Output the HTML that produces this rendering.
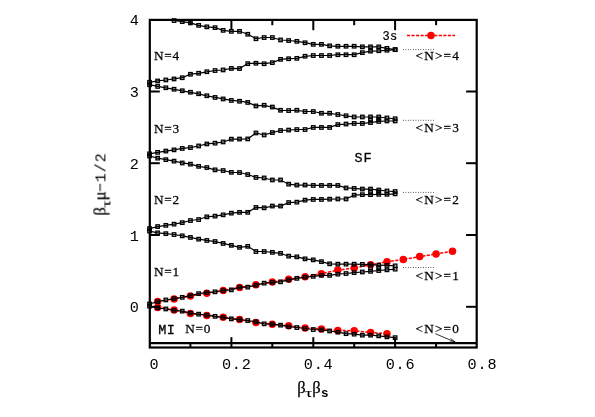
<!DOCTYPE html>
<html><head><meta charset="utf-8"><title>plot</title>
<style>html,body{margin:0;padding:0;background:#fff;}body{width:595px;height:417px;overflow:hidden;}svg{display:block;}text{fill:#000;}.tx{filter:grayscale(1);}.m{font-family:"Liberation Mono",monospace;font-size:15px;}.s{font-family:"Liberation Serif",serif;font-size:15px;stroke:#000;stroke-width:0.25px;}</style>
</head><body>
<svg width="595" height="417" viewBox="0 0 595 417">
<rect width="595" height="417" fill="#fff"/>
<g fill="none" stroke="#ff0000" stroke-width="1.5" stroke-dasharray="3.15 1.4">
<polyline points="157.7,301.6 174.1,298.9 190.4,296.1 206.8,293.2 223.2,290.5 239.6,287.5 255.9,284.8 272.3,282.1 288.7,279.3 305.1,276.8 321.4,273.7 337.8,270.1 354.2,268.1 370.6,264.7 387.0,261.7 403.3,259.5 419.7,256.6 436.1,253.9 452.5,251.2"/>
<polyline points="157.7,307.4 174.1,310.0 190.4,313.4 206.8,315.4 223.2,317.3 239.6,319.6 255.9,322.6 272.3,324.2 288.7,325.8 305.1,328.0 321.4,328.9 337.8,330.4 354.2,330.7 370.6,332.6 387.0,333.7"/>
<line x1="406.9" y1="35.5" x2="455.1" y2="35.5"/>
</g>
<g fill="#ff0000">
<circle cx="157.7" cy="301.6" r="3.75"/>
<circle cx="174.1" cy="298.9" r="3.75"/>
<circle cx="190.4" cy="296.1" r="3.75"/>
<circle cx="206.8" cy="293.2" r="3.75"/>
<circle cx="223.2" cy="290.5" r="3.75"/>
<circle cx="239.6" cy="287.5" r="3.75"/>
<circle cx="255.9" cy="284.8" r="3.75"/>
<circle cx="272.3" cy="282.1" r="3.75"/>
<circle cx="288.7" cy="279.3" r="3.75"/>
<circle cx="305.1" cy="276.8" r="3.75"/>
<circle cx="321.4" cy="273.7" r="3.75"/>
<circle cx="337.8" cy="270.1" r="3.75"/>
<circle cx="354.2" cy="268.1" r="3.75"/>
<circle cx="370.6" cy="264.7" r="3.75"/>
<circle cx="387.0" cy="261.7" r="3.75"/>
<circle cx="403.3" cy="259.5" r="3.75"/>
<circle cx="419.7" cy="256.6" r="3.75"/>
<circle cx="436.1" cy="253.9" r="3.75"/>
<circle cx="452.5" cy="251.2" r="3.75"/>
<circle cx="157.7" cy="307.4" r="3.75"/>
<circle cx="174.1" cy="310.0" r="3.75"/>
<circle cx="190.4" cy="313.4" r="3.75"/>
<circle cx="206.8" cy="315.4" r="3.75"/>
<circle cx="223.2" cy="317.3" r="3.75"/>
<circle cx="239.6" cy="319.6" r="3.75"/>
<circle cx="255.9" cy="322.6" r="3.75"/>
<circle cx="272.3" cy="324.2" r="3.75"/>
<circle cx="288.7" cy="325.8" r="3.75"/>
<circle cx="305.1" cy="328.0" r="3.75"/>
<circle cx="321.4" cy="328.9" r="3.75"/>
<circle cx="337.8" cy="330.4" r="3.75"/>
<circle cx="354.2" cy="330.7" r="3.75"/>
<circle cx="370.6" cy="332.6" r="3.75"/>
<circle cx="387.0" cy="333.7" r="3.75"/>
<circle cx="431.0" cy="35.5" r="3.75"/>
</g>
<g fill="none" stroke="#000" stroke-width="1.2">
<polyline points="174.1,20.5 182.3,21.7 190.4,22.9 198.6,25.4 206.8,26.9 215.0,27.6 223.2,30.3 231.4,31.3 239.6,31.3 247.8,34.3 255.9,38.7 264.1,37.5 272.3,37.5 280.5,40.0 288.7,40.5 296.9,41.4 305.1,42.7 313.3,44.4 321.4,44.4 329.6,45.9 337.8,46.3 346.0,46.3 354.2,46.3 362.4,46.9 370.6,46.9 378.8,46.9 387.0,48.4 395.1,49.6"/>
<polyline points="149.5,82.3 157.7,80.9 165.9,80.0 174.1,78.9 182.3,77.7 190.4,74.2 198.6,73.3 206.8,71.8 215.0,70.5 223.2,70.0 231.4,68.4 239.6,68.6 247.8,63.6 255.9,63.2 264.1,63.7 272.3,62.6 280.5,59.4 288.7,58.7 296.9,58.4 305.1,56.3 313.3,55.5 321.4,55.5 329.6,55.5 337.8,54.7 346.0,54.7 354.2,54.7 362.4,52.6 370.6,51.1 378.8,50.8 387.0,50.3 395.1,49.6"/>
<polyline points="149.5,84.7 157.7,86.4 165.9,87.8 174.1,89.3 182.3,90.8 190.4,92.3 198.6,93.8 206.8,95.8 215.0,97.4 223.2,98.9 231.4,100.4 239.6,101.2 247.8,102.4 255.9,105.9 264.1,105.3 272.3,107.1 280.5,110.3 288.7,110.5 296.9,110.3 305.1,111.5 313.3,111.5 321.4,113.3 329.6,113.3 337.8,114.5 346.0,115.8 354.2,117.0 362.4,117.0 370.6,117.0 378.8,117.0 387.0,118.0 395.1,118.8"/>
<polyline points="149.5,153.8 157.7,152.3 165.9,151.1 174.1,149.8 182.3,148.4 190.4,147.6 198.6,146.0 206.8,143.9 215.0,143.2 223.2,142.0 231.4,139.2 239.6,139.1 247.8,139.0 255.9,133.0 264.1,135.0 272.3,132.6 280.5,130.5 288.7,130.1 296.9,129.5 305.1,129.5 313.3,127.4 321.4,127.4 329.6,127.4 337.8,124.6 346.0,124.1 354.2,123.4 362.4,123.4 370.6,122.6 378.8,121.4 387.0,121.0 395.1,121.0"/>
<polyline points="149.5,156.0 157.7,158.2 165.9,159.7 174.1,161.2 182.3,162.9 190.4,164.2 198.6,166.3 206.8,167.6 215.0,169.8 223.2,170.5 231.4,172.3 239.6,172.5 247.8,174.5 255.9,177.4 264.1,178.0 272.3,180.0 280.5,180.0 288.7,184.2 296.9,185.1 305.1,185.1 313.3,185.4 321.4,185.4 329.6,185.4 337.8,185.4 346.0,187.9 354.2,188.4 362.4,189.1 370.6,189.1 378.8,190.1 387.0,191.0 395.1,191.6"/>
<polyline points="149.5,228.6 157.7,226.6 165.9,225.3 174.1,224.2 182.3,222.7 190.4,220.5 198.6,219.5 206.8,216.8 215.0,216.2 223.2,214.8 231.4,213.2 239.6,212.3 247.8,212.3 255.9,207.4 264.1,207.8 272.3,206.1 280.5,206.1 288.7,202.6 296.9,202.2 305.1,200.2 313.3,199.4 321.4,199.4 329.6,199.2 337.8,199.0 346.0,199.0 354.2,195.2 362.4,194.7 370.6,194.7 378.8,194.3 387.0,194.3 395.1,193.8"/>
<polyline points="149.5,231.1 157.7,232.8 165.9,233.7 174.1,234.5 182.3,235.8 190.4,237.4 198.6,239.2 206.8,240.4 215.0,241.6 223.2,243.4 231.4,245.3 239.6,247.3 247.8,246.3 255.9,251.5 264.1,251.5 272.3,252.3 280.5,253.3 288.7,256.2 296.9,256.8 305.1,258.9 313.3,259.9 321.4,261.6 329.6,263.8 337.8,264.1 346.0,264.1 354.2,264.2 362.4,264.4 370.6,264.7 378.8,265.1 387.0,265.4 395.1,265.9"/>
<polyline points="149.5,304.0 157.7,301.6 165.9,300.0 174.1,298.6 182.3,297.3 190.4,295.6 198.6,293.6 206.8,292.7 215.0,291.9 223.2,290.5 231.4,289.9 239.6,287.2 247.8,287.2 255.9,285.2 264.1,283.2 272.3,282.3 280.5,281.8 288.7,279.8 296.9,278.4 305.1,277.1 313.3,276.4 321.4,275.4 329.6,275.3 337.8,274.2 346.0,273.5 354.2,272.6 362.4,272.0 370.6,271.3 378.8,270.5 387.0,269.8 395.1,269.1"/>
<polyline points="149.5,306.2 157.7,307.9 165.9,309.0 174.1,310.4 182.3,311.2 190.4,313.1 198.6,314.1 206.8,315.1 215.0,316.3 223.2,317.3 231.4,318.8 239.6,319.6 247.8,320.5 255.9,321.8 264.1,323.8 272.3,324.2 280.5,325.2 288.7,326.7 296.9,327.5 305.1,328.5 313.3,329.5 321.4,329.9 329.6,331.0 337.8,332.1 346.0,333.7 354.2,334.2 362.4,335.1 370.6,335.1 378.8,335.9 387.0,336.8 395.1,337.6"/>
</g>
<g fill="#000" fill-opacity="0.22" stroke="#000" stroke-width="1.25">
<rect x="172.3" y="18.8" width="3.5" height="3.5"/>
<rect x="180.5" y="19.9" width="3.5" height="3.5"/>
<rect x="188.7" y="21.1" width="3.5" height="3.5"/>
<rect x="196.9" y="23.6" width="3.5" height="3.5"/>
<rect x="205.1" y="25.1" width="3.5" height="3.5"/>
<rect x="213.3" y="25.9" width="3.5" height="3.5"/>
<rect x="221.4" y="28.6" width="3.5" height="3.5"/>
<rect x="229.6" y="29.6" width="3.5" height="3.5"/>
<rect x="237.8" y="29.6" width="3.5" height="3.5"/>
<rect x="246.0" y="32.5" width="3.5" height="3.5"/>
<rect x="254.2" y="37.0" width="3.5" height="3.5"/>
<rect x="262.4" y="35.8" width="3.5" height="3.5"/>
<rect x="270.6" y="35.8" width="3.5" height="3.5"/>
<rect x="278.8" y="38.2" width="3.5" height="3.5"/>
<rect x="286.9" y="38.8" width="3.5" height="3.5"/>
<rect x="295.1" y="39.6" width="3.5" height="3.5"/>
<rect x="303.3" y="41.0" width="3.5" height="3.5"/>
<rect x="311.5" y="42.6" width="3.5" height="3.5"/>
<rect x="319.7" y="42.6" width="3.5" height="3.5"/>
<rect x="327.9" y="44.1" width="3.5" height="3.5"/>
<rect x="336.1" y="44.5" width="3.5" height="3.5"/>
<rect x="344.3" y="44.5" width="3.5" height="3.5"/>
<rect x="352.4" y="44.5" width="3.5" height="3.5"/>
<rect x="360.6" y="45.1" width="3.5" height="3.5"/>
<rect x="368.8" y="45.1" width="3.5" height="3.5"/>
<rect x="377.0" y="45.1" width="3.5" height="3.5"/>
<rect x="385.2" y="46.6" width="3.5" height="3.5"/>
<rect x="393.4" y="47.9" width="3.5" height="3.5"/>
<rect x="147.8" y="80.5" width="3.5" height="3.5"/>
<rect x="155.9" y="79.2" width="3.5" height="3.5"/>
<rect x="164.1" y="78.2" width="3.5" height="3.5"/>
<rect x="172.3" y="77.2" width="3.5" height="3.5"/>
<rect x="180.5" y="76.0" width="3.5" height="3.5"/>
<rect x="188.7" y="72.5" width="3.5" height="3.5"/>
<rect x="196.9" y="71.5" width="3.5" height="3.5"/>
<rect x="205.1" y="70.0" width="3.5" height="3.5"/>
<rect x="213.3" y="68.8" width="3.5" height="3.5"/>
<rect x="221.4" y="68.2" width="3.5" height="3.5"/>
<rect x="229.6" y="66.7" width="3.5" height="3.5"/>
<rect x="237.8" y="66.8" width="3.5" height="3.5"/>
<rect x="246.0" y="61.9" width="3.5" height="3.5"/>
<rect x="254.2" y="61.5" width="3.5" height="3.5"/>
<rect x="262.4" y="62.0" width="3.5" height="3.5"/>
<rect x="270.6" y="60.9" width="3.5" height="3.5"/>
<rect x="278.8" y="57.6" width="3.5" height="3.5"/>
<rect x="286.9" y="57.0" width="3.5" height="3.5"/>
<rect x="295.1" y="56.6" width="3.5" height="3.5"/>
<rect x="303.3" y="54.5" width="3.5" height="3.5"/>
<rect x="311.5" y="53.8" width="3.5" height="3.5"/>
<rect x="319.7" y="53.8" width="3.5" height="3.5"/>
<rect x="327.9" y="53.8" width="3.5" height="3.5"/>
<rect x="336.1" y="53.0" width="3.5" height="3.5"/>
<rect x="344.3" y="53.0" width="3.5" height="3.5"/>
<rect x="352.4" y="53.0" width="3.5" height="3.5"/>
<rect x="360.6" y="50.9" width="3.5" height="3.5"/>
<rect x="368.8" y="49.4" width="3.5" height="3.5"/>
<rect x="377.0" y="49.0" width="3.5" height="3.5"/>
<rect x="385.2" y="48.5" width="3.5" height="3.5"/>
<rect x="393.4" y="47.9" width="3.5" height="3.5"/>
<rect x="147.8" y="83.0" width="3.5" height="3.5"/>
<rect x="155.9" y="84.7" width="3.5" height="3.5"/>
<rect x="164.1" y="86.0" width="3.5" height="3.5"/>
<rect x="172.3" y="87.5" width="3.5" height="3.5"/>
<rect x="180.5" y="89.0" width="3.5" height="3.5"/>
<rect x="188.7" y="90.5" width="3.5" height="3.5"/>
<rect x="196.9" y="92.0" width="3.5" height="3.5"/>
<rect x="205.1" y="94.0" width="3.5" height="3.5"/>
<rect x="213.3" y="95.7" width="3.5" height="3.5"/>
<rect x="221.4" y="97.2" width="3.5" height="3.5"/>
<rect x="229.6" y="98.7" width="3.5" height="3.5"/>
<rect x="237.8" y="99.5" width="3.5" height="3.5"/>
<rect x="246.0" y="100.7" width="3.5" height="3.5"/>
<rect x="254.2" y="104.2" width="3.5" height="3.5"/>
<rect x="262.4" y="103.5" width="3.5" height="3.5"/>
<rect x="270.6" y="105.3" width="3.5" height="3.5"/>
<rect x="278.8" y="108.5" width="3.5" height="3.5"/>
<rect x="286.9" y="108.8" width="3.5" height="3.5"/>
<rect x="295.1" y="108.5" width="3.5" height="3.5"/>
<rect x="303.3" y="109.8" width="3.5" height="3.5"/>
<rect x="311.5" y="109.8" width="3.5" height="3.5"/>
<rect x="319.7" y="111.5" width="3.5" height="3.5"/>
<rect x="327.9" y="111.5" width="3.5" height="3.5"/>
<rect x="336.1" y="112.8" width="3.5" height="3.5"/>
<rect x="344.3" y="114.0" width="3.5" height="3.5"/>
<rect x="352.4" y="115.2" width="3.5" height="3.5"/>
<rect x="360.6" y="115.2" width="3.5" height="3.5"/>
<rect x="368.8" y="115.2" width="3.5" height="3.5"/>
<rect x="377.0" y="115.2" width="3.5" height="3.5"/>
<rect x="385.2" y="116.2" width="3.5" height="3.5"/>
<rect x="393.4" y="117.0" width="3.5" height="3.5"/>
<rect x="147.8" y="152.1" width="3.5" height="3.5"/>
<rect x="155.9" y="150.6" width="3.5" height="3.5"/>
<rect x="164.1" y="149.3" width="3.5" height="3.5"/>
<rect x="172.3" y="148.1" width="3.5" height="3.5"/>
<rect x="180.5" y="146.7" width="3.5" height="3.5"/>
<rect x="188.7" y="145.8" width="3.5" height="3.5"/>
<rect x="196.9" y="144.2" width="3.5" height="3.5"/>
<rect x="205.1" y="142.2" width="3.5" height="3.5"/>
<rect x="213.3" y="141.4" width="3.5" height="3.5"/>
<rect x="221.4" y="140.2" width="3.5" height="3.5"/>
<rect x="229.6" y="137.4" width="3.5" height="3.5"/>
<rect x="237.8" y="137.3" width="3.5" height="3.5"/>
<rect x="246.0" y="137.2" width="3.5" height="3.5"/>
<rect x="254.2" y="131.2" width="3.5" height="3.5"/>
<rect x="262.4" y="133.2" width="3.5" height="3.5"/>
<rect x="270.6" y="130.8" width="3.5" height="3.5"/>
<rect x="278.8" y="128.8" width="3.5" height="3.5"/>
<rect x="286.9" y="128.3" width="3.5" height="3.5"/>
<rect x="295.1" y="127.8" width="3.5" height="3.5"/>
<rect x="303.3" y="127.8" width="3.5" height="3.5"/>
<rect x="311.5" y="125.7" width="3.5" height="3.5"/>
<rect x="319.7" y="125.7" width="3.5" height="3.5"/>
<rect x="327.9" y="125.7" width="3.5" height="3.5"/>
<rect x="336.1" y="122.8" width="3.5" height="3.5"/>
<rect x="344.3" y="122.3" width="3.5" height="3.5"/>
<rect x="352.4" y="121.7" width="3.5" height="3.5"/>
<rect x="360.6" y="121.7" width="3.5" height="3.5"/>
<rect x="368.8" y="120.8" width="3.5" height="3.5"/>
<rect x="377.0" y="119.7" width="3.5" height="3.5"/>
<rect x="385.2" y="119.2" width="3.5" height="3.5"/>
<rect x="393.4" y="119.2" width="3.5" height="3.5"/>
<rect x="147.8" y="154.2" width="3.5" height="3.5"/>
<rect x="155.9" y="156.4" width="3.5" height="3.5"/>
<rect x="164.1" y="157.9" width="3.5" height="3.5"/>
<rect x="172.3" y="159.4" width="3.5" height="3.5"/>
<rect x="180.5" y="161.2" width="3.5" height="3.5"/>
<rect x="188.7" y="162.4" width="3.5" height="3.5"/>
<rect x="196.9" y="164.6" width="3.5" height="3.5"/>
<rect x="205.1" y="165.8" width="3.5" height="3.5"/>
<rect x="213.3" y="168.1" width="3.5" height="3.5"/>
<rect x="221.4" y="168.8" width="3.5" height="3.5"/>
<rect x="229.6" y="170.6" width="3.5" height="3.5"/>
<rect x="237.8" y="170.8" width="3.5" height="3.5"/>
<rect x="246.0" y="172.8" width="3.5" height="3.5"/>
<rect x="254.2" y="175.7" width="3.5" height="3.5"/>
<rect x="262.4" y="176.2" width="3.5" height="3.5"/>
<rect x="270.6" y="178.2" width="3.5" height="3.5"/>
<rect x="278.8" y="178.2" width="3.5" height="3.5"/>
<rect x="286.9" y="182.4" width="3.5" height="3.5"/>
<rect x="295.1" y="183.3" width="3.5" height="3.5"/>
<rect x="303.3" y="183.3" width="3.5" height="3.5"/>
<rect x="311.5" y="183.7" width="3.5" height="3.5"/>
<rect x="319.7" y="183.7" width="3.5" height="3.5"/>
<rect x="327.9" y="183.7" width="3.5" height="3.5"/>
<rect x="336.1" y="183.7" width="3.5" height="3.5"/>
<rect x="344.3" y="186.2" width="3.5" height="3.5"/>
<rect x="352.4" y="186.7" width="3.5" height="3.5"/>
<rect x="360.6" y="187.3" width="3.5" height="3.5"/>
<rect x="368.8" y="187.3" width="3.5" height="3.5"/>
<rect x="377.0" y="188.3" width="3.5" height="3.5"/>
<rect x="385.2" y="189.2" width="3.5" height="3.5"/>
<rect x="393.4" y="189.8" width="3.5" height="3.5"/>
<rect x="147.8" y="226.8" width="3.5" height="3.5"/>
<rect x="155.9" y="224.8" width="3.5" height="3.5"/>
<rect x="164.1" y="223.6" width="3.5" height="3.5"/>
<rect x="172.3" y="222.4" width="3.5" height="3.5"/>
<rect x="180.5" y="220.9" width="3.5" height="3.5"/>
<rect x="188.7" y="218.8" width="3.5" height="3.5"/>
<rect x="196.9" y="217.8" width="3.5" height="3.5"/>
<rect x="205.1" y="215.1" width="3.5" height="3.5"/>
<rect x="213.3" y="214.4" width="3.5" height="3.5"/>
<rect x="221.4" y="213.1" width="3.5" height="3.5"/>
<rect x="229.6" y="211.4" width="3.5" height="3.5"/>
<rect x="237.8" y="210.6" width="3.5" height="3.5"/>
<rect x="246.0" y="210.6" width="3.5" height="3.5"/>
<rect x="254.2" y="205.7" width="3.5" height="3.5"/>
<rect x="262.4" y="206.1" width="3.5" height="3.5"/>
<rect x="270.6" y="204.3" width="3.5" height="3.5"/>
<rect x="278.8" y="204.3" width="3.5" height="3.5"/>
<rect x="286.9" y="200.8" width="3.5" height="3.5"/>
<rect x="295.1" y="200.4" width="3.5" height="3.5"/>
<rect x="303.3" y="198.4" width="3.5" height="3.5"/>
<rect x="311.5" y="197.7" width="3.5" height="3.5"/>
<rect x="319.7" y="197.7" width="3.5" height="3.5"/>
<rect x="327.9" y="197.4" width="3.5" height="3.5"/>
<rect x="336.1" y="197.2" width="3.5" height="3.5"/>
<rect x="344.3" y="197.2" width="3.5" height="3.5"/>
<rect x="352.4" y="193.4" width="3.5" height="3.5"/>
<rect x="360.6" y="192.9" width="3.5" height="3.5"/>
<rect x="368.8" y="192.9" width="3.5" height="3.5"/>
<rect x="377.0" y="192.6" width="3.5" height="3.5"/>
<rect x="385.2" y="192.6" width="3.5" height="3.5"/>
<rect x="393.4" y="192.1" width="3.5" height="3.5"/>
<rect x="147.8" y="229.3" width="3.5" height="3.5"/>
<rect x="155.9" y="231.1" width="3.5" height="3.5"/>
<rect x="164.1" y="231.9" width="3.5" height="3.5"/>
<rect x="172.3" y="232.8" width="3.5" height="3.5"/>
<rect x="180.5" y="234.1" width="3.5" height="3.5"/>
<rect x="188.7" y="235.7" width="3.5" height="3.5"/>
<rect x="196.9" y="237.4" width="3.5" height="3.5"/>
<rect x="205.1" y="238.7" width="3.5" height="3.5"/>
<rect x="213.3" y="239.8" width="3.5" height="3.5"/>
<rect x="221.4" y="241.7" width="3.5" height="3.5"/>
<rect x="229.6" y="243.6" width="3.5" height="3.5"/>
<rect x="237.8" y="245.6" width="3.5" height="3.5"/>
<rect x="246.0" y="244.6" width="3.5" height="3.5"/>
<rect x="254.2" y="249.8" width="3.5" height="3.5"/>
<rect x="262.4" y="249.8" width="3.5" height="3.5"/>
<rect x="270.6" y="250.6" width="3.5" height="3.5"/>
<rect x="278.8" y="251.6" width="3.5" height="3.5"/>
<rect x="286.9" y="254.4" width="3.5" height="3.5"/>
<rect x="295.1" y="255.1" width="3.5" height="3.5"/>
<rect x="303.3" y="257.1" width="3.5" height="3.5"/>
<rect x="311.5" y="258.1" width="3.5" height="3.5"/>
<rect x="319.7" y="259.9" width="3.5" height="3.5"/>
<rect x="327.9" y="262.1" width="3.5" height="3.5"/>
<rect x="336.1" y="262.4" width="3.5" height="3.5"/>
<rect x="344.3" y="262.4" width="3.5" height="3.5"/>
<rect x="352.4" y="262.4" width="3.5" height="3.5"/>
<rect x="360.6" y="262.6" width="3.5" height="3.5"/>
<rect x="368.8" y="262.9" width="3.5" height="3.5"/>
<rect x="377.0" y="263.4" width="3.5" height="3.5"/>
<rect x="385.2" y="263.6" width="3.5" height="3.5"/>
<rect x="393.4" y="264.1" width="3.5" height="3.5"/>
<rect x="147.8" y="302.2" width="3.5" height="3.5"/>
<rect x="155.9" y="299.9" width="3.5" height="3.5"/>
<rect x="164.1" y="298.2" width="3.5" height="3.5"/>
<rect x="172.3" y="296.9" width="3.5" height="3.5"/>
<rect x="180.5" y="295.6" width="3.5" height="3.5"/>
<rect x="188.7" y="293.9" width="3.5" height="3.5"/>
<rect x="196.9" y="291.9" width="3.5" height="3.5"/>
<rect x="205.1" y="290.9" width="3.5" height="3.5"/>
<rect x="213.3" y="290.1" width="3.5" height="3.5"/>
<rect x="221.4" y="288.8" width="3.5" height="3.5"/>
<rect x="229.6" y="288.1" width="3.5" height="3.5"/>
<rect x="237.8" y="285.4" width="3.5" height="3.5"/>
<rect x="246.0" y="285.4" width="3.5" height="3.5"/>
<rect x="254.2" y="283.4" width="3.5" height="3.5"/>
<rect x="262.4" y="281.4" width="3.5" height="3.5"/>
<rect x="270.6" y="280.6" width="3.5" height="3.5"/>
<rect x="278.8" y="280.1" width="3.5" height="3.5"/>
<rect x="286.9" y="278.1" width="3.5" height="3.5"/>
<rect x="295.1" y="276.6" width="3.5" height="3.5"/>
<rect x="303.3" y="275.4" width="3.5" height="3.5"/>
<rect x="311.5" y="274.6" width="3.5" height="3.5"/>
<rect x="319.7" y="273.6" width="3.5" height="3.5"/>
<rect x="327.9" y="273.6" width="3.5" height="3.5"/>
<rect x="336.1" y="272.4" width="3.5" height="3.5"/>
<rect x="344.3" y="271.8" width="3.5" height="3.5"/>
<rect x="352.4" y="270.9" width="3.5" height="3.5"/>
<rect x="360.6" y="270.2" width="3.5" height="3.5"/>
<rect x="368.8" y="269.6" width="3.5" height="3.5"/>
<rect x="377.0" y="268.8" width="3.5" height="3.5"/>
<rect x="385.2" y="268.1" width="3.5" height="3.5"/>
<rect x="393.4" y="267.4" width="3.5" height="3.5"/>
<rect x="147.8" y="304.4" width="3.5" height="3.5"/>
<rect x="155.9" y="306.1" width="3.5" height="3.5"/>
<rect x="164.1" y="307.2" width="3.5" height="3.5"/>
<rect x="172.3" y="308.6" width="3.5" height="3.5"/>
<rect x="180.5" y="309.4" width="3.5" height="3.5"/>
<rect x="188.7" y="311.4" width="3.5" height="3.5"/>
<rect x="196.9" y="312.4" width="3.5" height="3.5"/>
<rect x="205.1" y="313.4" width="3.5" height="3.5"/>
<rect x="213.3" y="314.6" width="3.5" height="3.5"/>
<rect x="221.4" y="315.6" width="3.5" height="3.5"/>
<rect x="229.6" y="317.1" width="3.5" height="3.5"/>
<rect x="237.8" y="317.9" width="3.5" height="3.5"/>
<rect x="246.0" y="318.8" width="3.5" height="3.5"/>
<rect x="254.2" y="320.1" width="3.5" height="3.5"/>
<rect x="262.4" y="322.1" width="3.5" height="3.5"/>
<rect x="270.6" y="322.4" width="3.5" height="3.5"/>
<rect x="278.8" y="323.4" width="3.5" height="3.5"/>
<rect x="286.9" y="324.9" width="3.5" height="3.5"/>
<rect x="295.1" y="325.8" width="3.5" height="3.5"/>
<rect x="303.3" y="326.8" width="3.5" height="3.5"/>
<rect x="311.5" y="327.8" width="3.5" height="3.5"/>
<rect x="319.7" y="328.1" width="3.5" height="3.5"/>
<rect x="327.9" y="329.2" width="3.5" height="3.5"/>
<rect x="336.1" y="330.4" width="3.5" height="3.5"/>
<rect x="344.3" y="331.9" width="3.5" height="3.5"/>
<rect x="352.4" y="332.4" width="3.5" height="3.5"/>
<rect x="360.6" y="333.4" width="3.5" height="3.5"/>
<rect x="368.8" y="333.4" width="3.5" height="3.5"/>
<rect x="377.0" y="334.1" width="3.5" height="3.5"/>
<rect x="385.2" y="335.1" width="3.5" height="3.5"/>
<rect x="393.4" y="335.9" width="3.5" height="3.5"/>
<rect x="368.8" y="118.0" width="3.5" height="3.5"/>
<rect x="377.0" y="117.5" width="3.5" height="3.5"/>
<rect x="368.8" y="190.1" width="3.5" height="3.5"/>
<rect x="377.0" y="190.4" width="3.5" height="3.5"/>
<rect x="368.8" y="266.2" width="3.5" height="3.5"/>
<rect x="377.0" y="266.1" width="3.5" height="3.5"/>
</g>
<g stroke="#000" stroke-width="0.8" stroke-dasharray="0.8 1.7" fill="none">
<line x1="403" y1="49.6" x2="435.5" y2="49.6"/>
<line x1="403" y1="120.3" x2="435.5" y2="120.3"/>
<line x1="403" y1="192.4" x2="435.5" y2="192.4"/>
<line x1="403" y1="267.5" x2="435.5" y2="267.5"/>
</g>
<g stroke="#000" stroke-width="0.8" fill="none"><line x1="435.3" y1="333.7" x2="455.2" y2="342.1"/><polyline points="450.6,338.6 455.2,342.1 449.6,342.0"/></g>
<g stroke="#000" stroke-width="2.2" fill="none">
<rect x="149.8" y="19.9" width="326.9" height="327.6"/>
<line x1="149.8" y1="343.1" x2="476.7" y2="343.1"/>
</g>
<g stroke="#000" stroke-width="2.0" fill="none">
<line x1="190.4" y1="347.5" x2="190.4" y2="342.2"/>
<line x1="190.4" y1="19.9" x2="190.4" y2="25.2"/>
<line x1="231.4" y1="347.5" x2="231.4" y2="337.2"/>
<line x1="231.4" y1="19.9" x2="231.4" y2="30.2"/>
<line x1="272.3" y1="347.5" x2="272.3" y2="342.2"/>
<line x1="272.3" y1="19.9" x2="272.3" y2="25.2"/>
<line x1="313.3" y1="347.5" x2="313.3" y2="337.2"/>
<line x1="313.3" y1="19.9" x2="313.3" y2="30.2"/>
<line x1="354.2" y1="347.5" x2="354.2" y2="342.2"/>
<line x1="354.2" y1="19.9" x2="354.2" y2="25.2"/>
<line x1="395.1" y1="347.5" x2="395.1" y2="337.2"/>
<line x1="395.1" y1="19.9" x2="395.1" y2="30.2"/>
<line x1="436.1" y1="347.5" x2="436.1" y2="342.2"/>
<line x1="436.1" y1="19.9" x2="436.1" y2="25.2"/>
<line x1="149.8" y1="91.5" x2="159.8" y2="91.5"/>
<line x1="476.7" y1="91.5" x2="466.1" y2="91.5"/>
<line x1="149.8" y1="163.2" x2="159.8" y2="163.2"/>
<line x1="476.7" y1="163.2" x2="466.1" y2="163.2"/>
<line x1="149.8" y1="235.0" x2="159.8" y2="235.0"/>
<line x1="476.7" y1="235.0" x2="466.1" y2="235.0"/>
<line x1="149.8" y1="306.8" x2="159.8" y2="306.8"/>
<line x1="476.7" y1="306.8" x2="466.1" y2="306.8"/>
</g>
<g class="tx">
<text class="m" x="129.80" y="25.40" style="font-size:15.20px;letter-spacing:0.80px;">4</text>
<text class="m" x="129.80" y="97.10" style="font-size:15.20px;letter-spacing:0.80px;">3</text>
<text class="m" x="129.80" y="168.80" style="font-size:15.20px;letter-spacing:0.80px;">2</text>
<text class="m" x="129.80" y="240.60" style="font-size:15.20px;letter-spacing:0.80px;">1</text>
<text class="m" x="129.80" y="312.40" style="font-size:15.20px;letter-spacing:0.80px;">0</text>
<text class="m" x="149.60" y="369.40" style="font-size:15.20px;letter-spacing:0.80px;">0</text>
<text class="m" x="221.95" y="369.40" style="font-size:15.20px;letter-spacing:0.80px;">0.2</text>
<text class="m" x="303.80" y="369.40" style="font-size:15.20px;letter-spacing:0.80px;">0.4</text>
<text class="m" x="385.70" y="369.40" style="font-size:15.20px;letter-spacing:0.80px;">0.6</text>
<text class="m" x="467.60" y="369.40" style="font-size:15.20px;letter-spacing:0.80px;">0.8</text>
<text class="s" transform="translate(153.90 60.30) scale(1.060 1)" style="font-size:12.50px;letter-spacing:0.75px;">N=4</text>
<text class="s" transform="translate(153.90 132.60) scale(1.060 1)" style="font-size:12.50px;letter-spacing:0.75px;">N=3</text>
<text class="s" transform="translate(153.90 204.30) scale(1.060 1)" style="font-size:12.50px;letter-spacing:0.75px;">N=2</text>
<text class="s" transform="translate(153.90 276.00) scale(1.060 1)" style="font-size:12.50px;letter-spacing:0.75px;">N=1</text>
<text class="s" transform="translate(415.60 60.30) scale(1.060 1)" style="font-size:12.50px;letter-spacing:1.10px;">&lt;N&gt;=4</text>
<text class="s" transform="translate(415.60 132.40) scale(1.060 1)" style="font-size:12.50px;letter-spacing:1.10px;">&lt;N&gt;=3</text>
<text class="s" transform="translate(415.60 204.40) scale(1.060 1)" style="font-size:12.50px;letter-spacing:1.10px;">&lt;N&gt;=2</text>
<text class="s" transform="translate(415.60 279.70) scale(1.060 1)" style="font-size:12.50px;letter-spacing:1.10px;">&lt;N&gt;=1</text>
<text class="s" transform="translate(415.60 333.20) scale(1.060 1)" style="font-size:12.50px;letter-spacing:1.10px;">&lt;N&gt;=0</text>
<text class="m" x="158.20" y="333.60" style="font-size:13.50px;letter-spacing:0.50px;stroke:#000;stroke-width:0.3px;">MI</text>
<text class="s" transform="translate(185.20 333.20) scale(1.060 1)" style="font-size:12.50px;letter-spacing:0.75px;">N=0</text>
<text class="m" x="354.40" y="161.70" style="font-size:13.50px;letter-spacing:1.00px;stroke:#000;stroke-width:0.3px;">SF</text>
<text class="m" x="382.60" y="39.70" style="font-size:12.00px;letter-spacing:0.20px;stroke:#000;stroke-width:0.2px;">3s</text>
<text class="s" x="297.30" y="393.00" style="font-size:16.50px;letter-spacing:0.00px;">β</text>
<text class="s" transform="translate(304.90 397.20) scale(1.350 1)" style="font-size:13.40px;letter-spacing:0.00px;stroke-width:0.12px;">τ</text>
<text class="s" x="312.20" y="393.00" style="font-size:16.50px;letter-spacing:0.00px;">β</text>
<text class="m" x="320.90" y="397.20" style="font-size:12.50px;letter-spacing:0.00px;font-weight:bold;">s</text>
<g transform="translate(105.4,214.8) rotate(-90)">
<text class="s" x="-0.70" y="0.00" style="font-size:16.50px;letter-spacing:0.00px;">β</text>
<text class="s" transform="translate(7.20 5.00) scale(1.350 1)" style="font-size:13.40px;letter-spacing:0.00px;stroke-width:0.12px;">τ</text>
<text class="s" x="14.60" y="0.00" style="font-size:16.50px;letter-spacing:0.00px;">μ</text>
<text class="m" x="22.70" y="0.00" style="font-size:15.20px;letter-spacing:0.80px;">−1/2</text>
</g>
</g>
</svg></body></html>
